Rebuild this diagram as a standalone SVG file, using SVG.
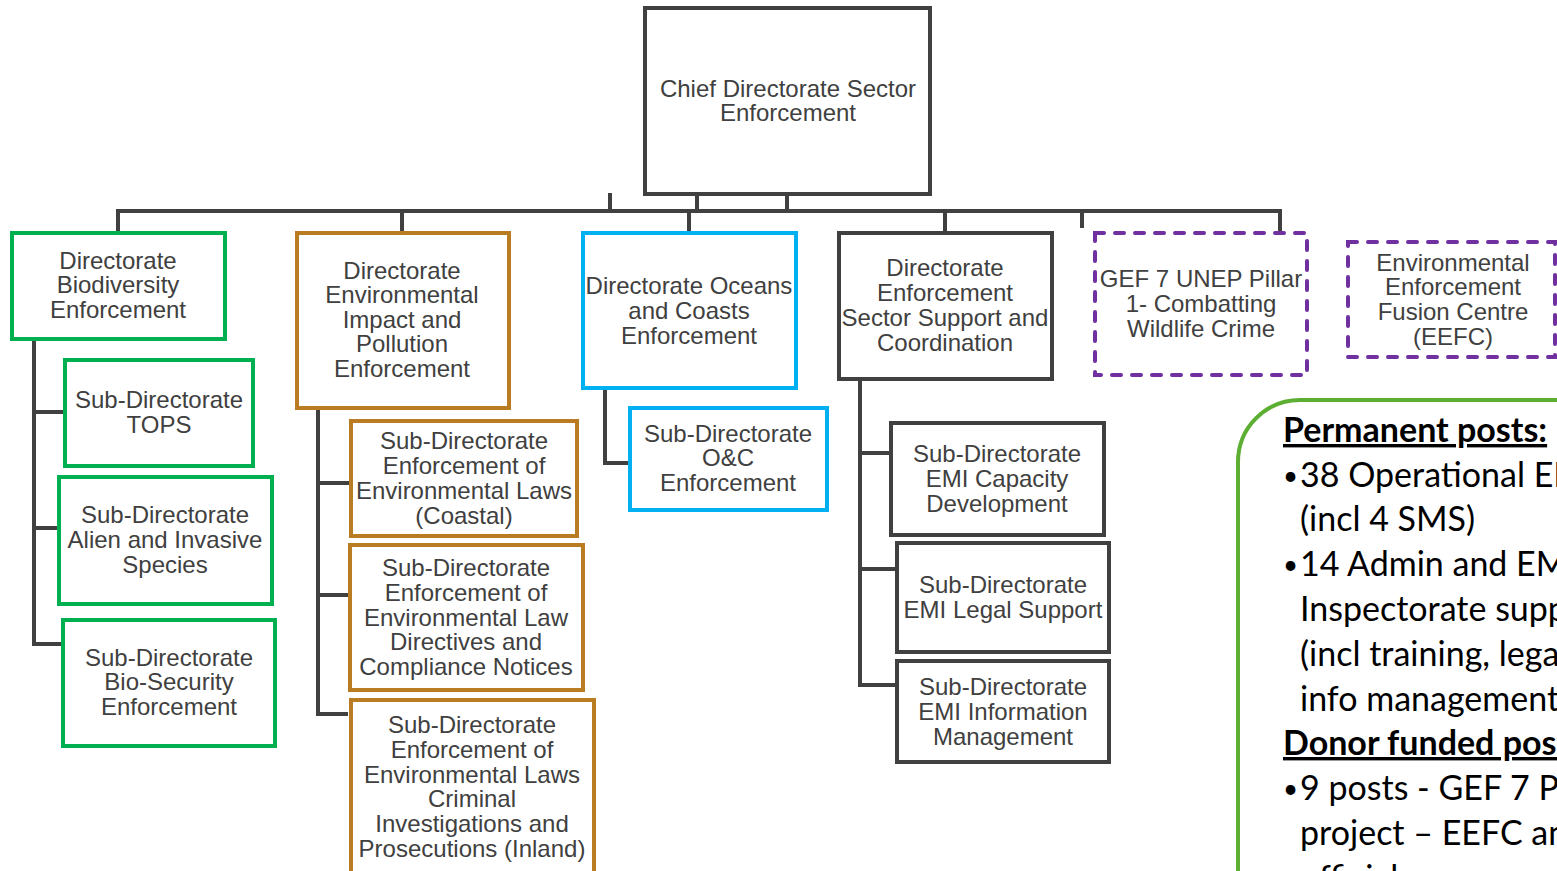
<svg xmlns="http://www.w3.org/2000/svg" width="1557" height="871" viewBox="0 0 1557 871">
<style>
.box{fill:#fff;stroke-width:4}
.dk{stroke:#404040}
.gr{stroke:#00B050}
.or{stroke:#B97C22}
.bl{stroke:#00B0F0}
.pu{stroke:#7030A0;stroke-dasharray:9 11;stroke-linecap:round}
.t{font-family:"Liberation Sans",Arial,sans-serif;font-size:24px;fill:#404040;text-anchor:middle}
.c{fill:none;stroke:#404040;stroke-width:4}
.n{font-family:Lato,"Open Sans",sans-serif;font-size:34px;fill:#000}
.b{font-weight:bold;text-decoration:underline}
.d{font-size:26px}
</style>
<rect width="1557" height="871" fill="#fff"/>
<g id="connectors">
<path class="c" d="M118,232V211H1280V232M610,193V211M697,194V211M787,194V211M402,211V232M689,211V232M945,211V232M1082,211V228"/>
<path class="c" d="M34,339V644H62M34,412H64M34,528H58"/>
<path class="c" d="M318,408V714H348M318,483H350M318,595H349"/>
<path class="c" d="M605,388V463H630"/>
<path class="c" d="M860,379V685H896M860,453H890M860,569H896"/>
</g>
<g id="chief"><rect class="box dk" x="645" y="8" width="285" height="186"/><text class="t"><tspan x="788" y="97">Chief Directorate Sector</tspan><tspan x="788" y="121">Enforcement</tspan></text></g>
<g id="biodiversity"><rect class="box gr" x="12" y="233" width="213" height="106"/><text class="t"><tspan x="118" y="269">Directorate</tspan><tspan x="118" y="293">Biodiversity</tspan><tspan x="118" y="318">Enforcement</tspan></text></g>
<g id="tops"><rect class="box gr" x="65" y="360" width="188" height="106"/><text class="t"><tspan x="159" y="408">Sub-Directorate</tspan><tspan x="159" y="433">TOPS</tspan></text></g>
<g id="alien"><rect class="box gr" x="59" y="477" width="213" height="127"/><text class="t"><tspan x="165" y="523">Sub-Directorate</tspan><tspan x="165" y="548">Alien and Invasive</tspan><tspan x="165" y="573">Species</tspan></text></g>
<g id="biosecurity"><rect class="box gr" x="63" y="620" width="212" height="126"/><text class="t"><tspan x="169" y="666">Sub-Directorate</tspan><tspan x="169" y="690">Bio-Security</tspan><tspan x="169" y="715">Enforcement</tspan></text></g>
<g id="impact"><rect class="box or" x="297" y="233" width="212" height="175"/><text class="t"><tspan x="402" y="279">Directorate</tspan><tspan x="402" y="303">Environmental</tspan><tspan x="402" y="328">Impact and</tspan><tspan x="402" y="352">Pollution</tspan><tspan x="402" y="377">Enforcement</tspan></text></g>
<g id="coastal"><rect class="box or" x="351" y="421" width="226" height="115"/><text class="t"><tspan x="464" y="449">Sub-Directorate</tspan><tspan x="464" y="474">Enforcement of</tspan><tspan x="464" y="499">Environmental Laws</tspan><tspan x="464" y="524">(Coastal)</tspan></text></g>
<g id="directives"><rect class="box or" x="350" y="545" width="233" height="145"/><text class="t"><tspan x="466" y="576">Sub-Directorate</tspan><tspan x="466" y="601">Enforcement of</tspan><tspan x="466" y="626">Environmental Law</tspan><tspan x="466" y="650">Directives and</tspan><tspan x="466" y="675">Compliance Notices</tspan></text></g>
<g id="criminal"><rect class="box or" x="351" y="700" width="243" height="190"/><text class="t"><tspan x="472" y="733">Sub-Directorate</tspan><tspan x="472" y="758">Enforcement of</tspan><tspan x="472" y="783">Environmental Laws</tspan><tspan x="472" y="807">Criminal</tspan><tspan x="472" y="832">Investigations and</tspan><tspan x="472" y="857">Prosecutions (Inland)</tspan></text></g>
<g id="oceans"><rect class="box bl" x="583" y="233" width="213" height="155"/><text class="t"><tspan x="689" y="294">Directorate Oceans</tspan><tspan x="689" y="319">and Coasts</tspan><tspan x="689" y="344">Enforcement</tspan></text></g>
<g id="oc"><rect class="box bl" x="630" y="408" width="197" height="102"/><text class="t"><tspan x="728" y="442">Sub-Directorate</tspan><tspan x="728" y="466">O&amp;C</tspan><tspan x="728" y="491">Enforcement</tspan></text></g>
<g id="support"><rect class="box dk" x="839" y="233" width="213" height="146"/><text class="t"><tspan x="945" y="276">Directorate</tspan><tspan x="945" y="301">Enforcement</tspan><tspan x="945" y="326">Sector Support and</tspan><tspan x="945" y="351">Coordination</tspan></text></g>
<g id="capacity"><rect class="box dk" x="891" y="423" width="213" height="112"/><text class="t"><tspan x="997" y="462">Sub-Directorate</tspan><tspan x="997" y="487">EMI Capacity</tspan><tspan x="997" y="512">Development</tspan></text></g>
<g id="legal"><rect class="box dk" x="897" y="543" width="212" height="109"/><text class="t"><tspan x="1003" y="593">Sub-Directorate</tspan><tspan x="1003" y="618">EMI Legal Support</tspan></text></g>
<g id="info"><rect class="box dk" x="897" y="661" width="212" height="101"/><text class="t"><tspan x="1003" y="695">Sub-Directorate</tspan><tspan x="1003" y="720">EMI Information</tspan><tspan x="1003" y="745">Management</tspan></text></g>
<g id="gef"><rect class="box pu" x="1095" y="233" width="212" height="142"/><text class="t"><tspan x="1201" y="287">GEF 7 UNEP Pillar</tspan><tspan x="1201" y="312">1- Combatting</tspan><tspan x="1201" y="337">Wildlife Crime</tspan></text></g>
<g id="eefc"><rect class="box pu" x="1348" y="242" width="207" height="115"/><text class="t"><tspan x="1453" y="271">Environmental</tspan><tspan x="1453" y="295">Enforcement</tspan><tspan x="1453" y="320">Fusion Centre</tspan><tspan x="1453" y="345">(EEFC)</tspan></text></g>
<g id="posts"><rect x="1238" y="400" width="420" height="600" rx="62" fill="#fff" stroke="#5DAF34" stroke-width="4"/>
<text class="n"><tspan class="b" x="1283" y="442">Permanent posts:</tspan></text>
<text class="n"><tspan class="d" x="1283" y="485">•</tspan><tspan class="d" x="1283" y="574">•</tspan><tspan class="d" x="1283" y="798">•</tspan></text>
<text class="n"><tspan x="1300" y="487">38 Operational EMIs</tspan><tspan x="1300" y="531">(incl 4 SMS)</tspan><tspan x="1300" y="576">14 Admin and EMI</tspan><tspan x="1300" y="621">Inspectorate support</tspan><tspan x="1300" y="666">(incl training, legal,</tspan><tspan x="1300" y="711">info management)</tspan></text>
<text class="n"><tspan class="b" x="1283" y="755">Donor funded posts:</tspan></text>
<text class="n"><tspan x="1300" y="800">9 posts - GEF 7 Pillar 1</tspan><tspan x="1300" y="845">project – EEFC and</tspan><tspan x="1300" y="890">officials</tspan></text>
</g>
</svg>
